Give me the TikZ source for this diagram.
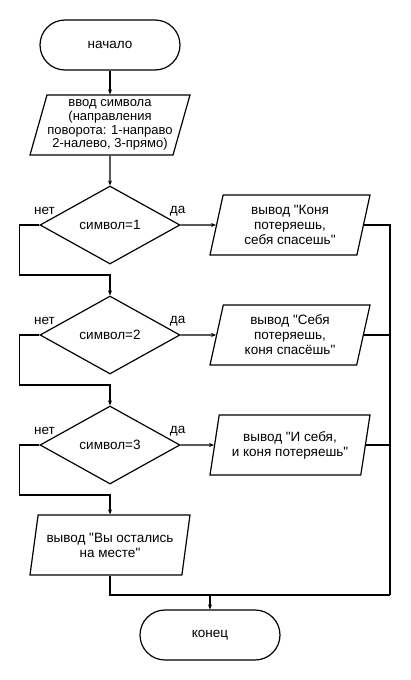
\documentclass[tikz,border=0pt]{standalone}
\usepackage{fontspec}
\setmainfont{Liberation Sans}[Ligatures=TeXOff]
\usepackage{tikz}
\usetikzlibrary{ % tikz packages
    shapes.geometric,calc,
    arrows.meta
}
\tikzset{terminal/.style={
    draw, rectangle, rounded corners=25pt,
    minimum width=140pt, minimum height=50pt
}}
\tikzset{iobox/.style={
    draw, trapezium, trapezium left angle=71.6, trapezium right angle=108.4,
    trapezium stretches body, inner sep=0pt, align=center,
    minimum width=160pt, minimum height=60pt
}}
\tikzset{decision/.style={
    draw, diamond, aspect=1.8, inner sep=0pt,
    minimum width=140pt, minimum height=78pt
}}
\tikzset{>={Stealth[length=5pt,width=4pt]}}

\begin{document}
\begin{tikzpicture}[x=1pt,y=-1pt,line width=1.2pt,font=\fontsize{13.5}{15}\selectfont]
        \useasboundingbox (0,0) rectangle (410,680);
        \node[terminal] (start) at (110,45) {начало};
        \node[iobox,font=\fontsize{13}{13.8}\selectfont] (input) at (110,125) {ввод символа\\(направления\\поворота: 1-направо\\2-налево, 3-прямо)};

        \node[decision] (d1) at (110,225) {символ=1};
        \node[decision] (d2) at (110,335) {символ=2};
        \node[decision] (d3) at (110,445) {символ=3};

        \node[iobox] (out1) at (290,225) {вывод "Коня\\потеряешь,\\себя спасешь"};
        \node[iobox] (out2) at (290,335) {вывод "Себя\\потеряешь,\\коня спасёшь"};
        \node[iobox] (out3) at (290,445) {вывод "И себя,\\и коня потеряешь"};
        \node[iobox] (out4) at (110,545) {вывод "Вы остались\\на месте"};

        \node[terminal] (stop) at (210,635) {конец};

        \coordinate (join) at (390,595);
        \coordinate (merge) at (210,595);

        % labels
        \foreach \d in {d1,d2,d3} {
            \node at ($(\d.west)+(5,-14)$) {нет};
            \node at ($(\d.east)+(-3,-14)$) {да};
        }

        \draw[->] (start) -- (input);
        \draw[->] (input) -- (d1);
        \draw[->] (d1.east) -- (out1.west);
        \draw[->] (d2.east) -- (out2.west);
        \draw[->] (d3.east) -- (out3.west);
        \draw[->] (d1.west) -| ($(d1.west)+(-20,50)$) -| (d2.north);
        \draw[->] (d2.west) -| ($(d2.west)+(-20,50)$) -| (d3.north);
        \draw[->] (d3.west) -| ($(d3.west)+(-20,50)$) -| (out4.north);
        \draw (out1.east) -| (join);
        \draw (out2.east) -| (join);
        \draw (out3.east) -| (join);
        \draw (out4.south) |- (join);
        \draw[->] (merge) -- (stop);
    \end{tikzpicture}
\end{document}
